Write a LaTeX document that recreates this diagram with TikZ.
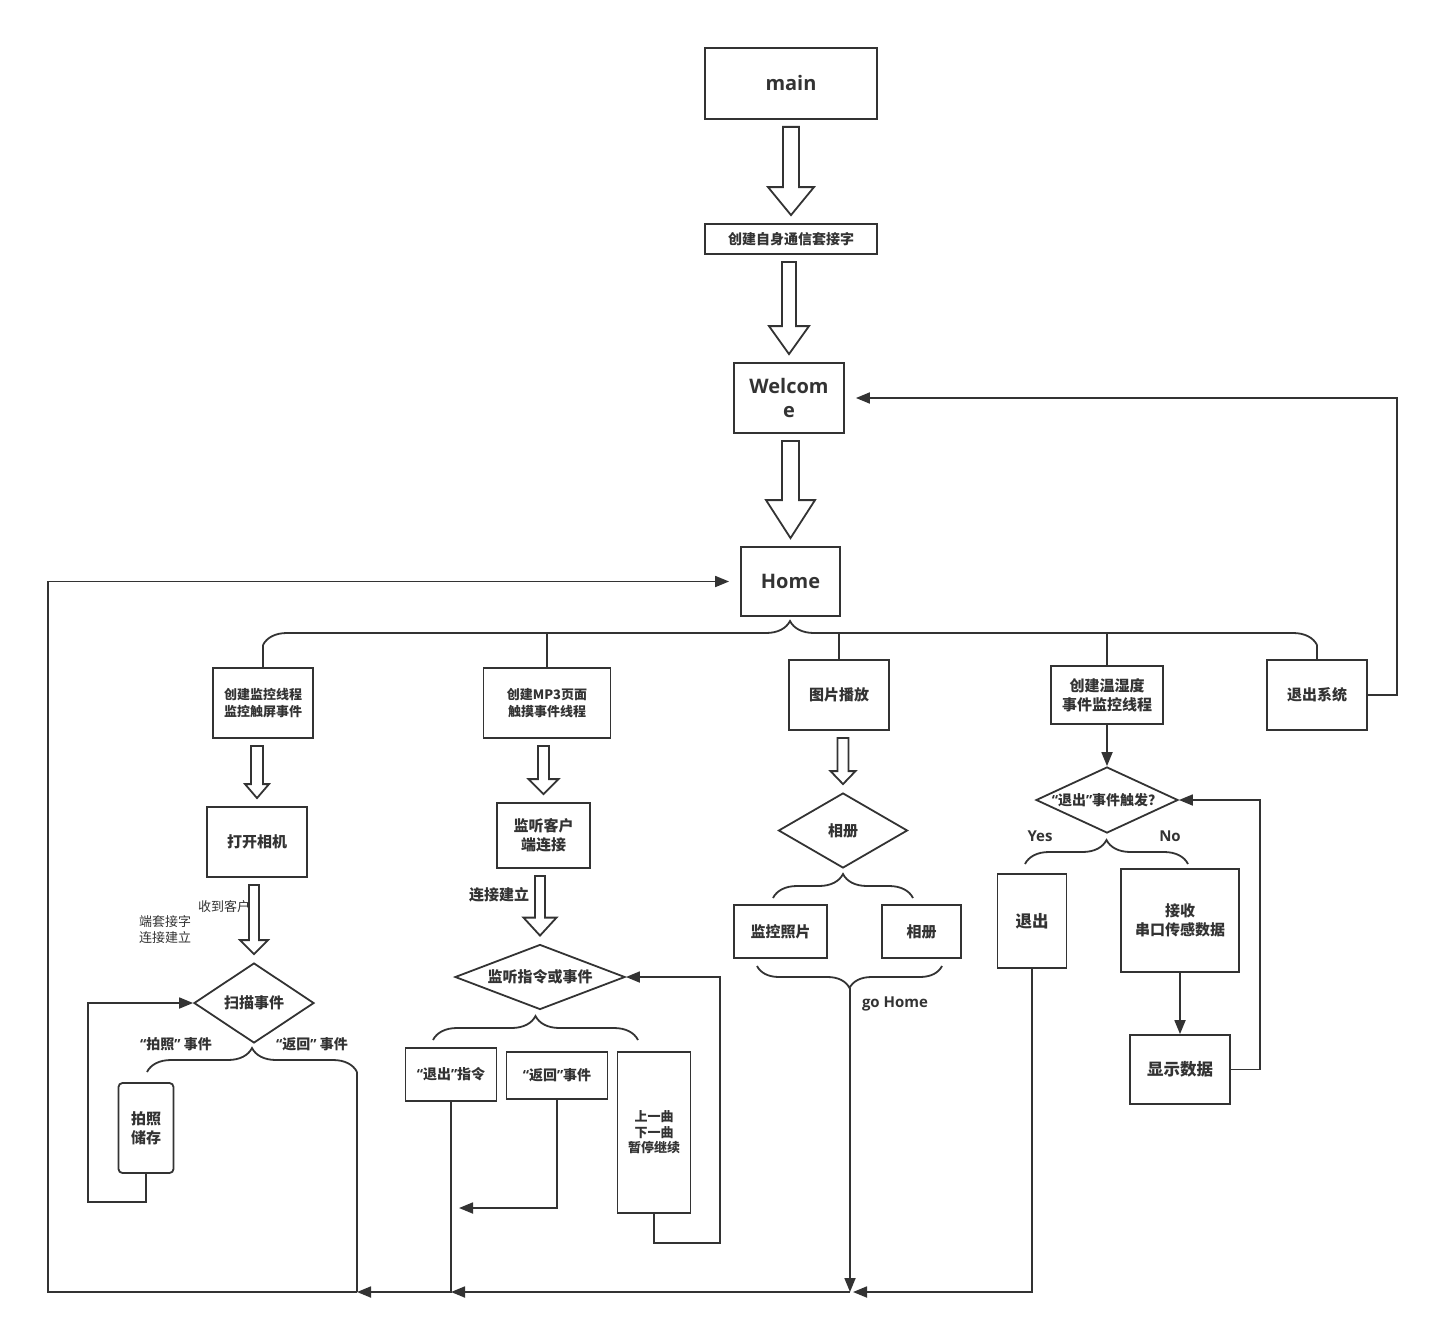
\documentclass[tikz,border=0pt]{standalone}
\usepackage{fontspec}
\setmainfont{Noto Sans CJK SC}
\newfontfamily\latinfont{Open Sans}
\usetikzlibrary{arrows.meta, positioning, calc, decorations.pathreplacing, shapes.geometric}
\definecolor{ink}{HTML}{333333}

% narrow quote marks
\newcommand{\qo}{{\latinfont“}}
\newcommand{\qc}{{\latinfont”}}

% hollow block arrow between two nodes
\newcommand{\fatarrow}[5]{%
  \draw[fat] let \p1 = (#1.south), \p2 = (#2.north) in
    (\x2-#3pt, \y1-7pt) -- (\x2+#3pt, \y1-7pt) -- (\x2+#3pt, \y2+8pt+#5pt)
    -- (\x2+#4pt, \y2+8pt+#5pt) -- (\x2, \y2+8pt) -- (\x2-#4pt, \y2+8pt+#5pt)
    -- (\x2-#3pt, \y2+8pt+#5pt) -- cycle;}

\begin{document}
\begin{tikzpicture}[x=1pt, y=-1pt,
  box/.style={draw=ink, line width=1.8pt, text=ink, inner sep=0pt, align=center,
    font=\bfseries\fontsize{15}{19}\selectfont},
  fsmall/.style={font=\bfseries\fontsize{13}{17}\selectfont},
  fmid/.style={font=\bfseries\fontsize{14}{18}\selectfont},
  latinbig/.style={font=\latinfont\bfseries\fontsize{20}{24}\selectfont},
  latinlbl/.style={text=ink, font=\latinfont\bfseries\fontsize{15}{18}\selectfont},
  dia/.style={box, diamond},
  fat/.style={draw=ink, fill=white, line width=1.8pt},
  arr/.style={-{Triangle[length=14pt, width=11pt]}, draw=ink, line width=1.8pt},
  wire/.style={draw=ink, line width=1.8pt},
  brace/.style={decorate, decoration={brace, amplitude=24pt}, draw=ink, line width=1.8pt},
  bracedown/.style={decorate, decoration={brace, mirror, amplitude=22pt}, draw=ink, line width=1.8pt},
  note/.style={text=ink, font=\bfseries\fontsize{14}{18}\selectfont}
]
  \useasboundingbox (0,0) rectangle (1429,1327);

  % Top chain
  \node[box, latinbig, minimum width=172pt, minimum height=71pt] (main) at (791,83.5) {main};
  \node[box, fmid, minimum width=172pt, minimum height=30pt] (sock) at (791,239) {创建自身通信套接字};
  \node[box, latinbig, minimum width=110pt, minimum height=70pt] (welcome) at (789,398) {Welcom\\e};
  \node[box, latinbig, minimum width=99pt, minimum height=69pt] (home) at (790.5,581.5) {Home};

  % Second row
  \node[box, fsmall, minimum width=100pt, minimum height=70pt] (mon) at (263,703) {创建监控线程\\监控触屏事件};
  \node[box, fsmall, minimum width=127pt, minimum height=70pt] (mp3) at (547,703) {创建MP3页面\\触摸事件线程};
  \node[box, minimum width=100pt, minimum height=70pt] (pic) at (839,695) {图片播放};
  \node[box, minimum width=112pt, minimum height=58pt] (th) at (1107,695) {创建温湿度\\事件监控线程};
  \node[box, minimum width=100pt, minimum height=70pt] (quitsys) at (1317,695) {退出系统};

  % Camera column
  \node[box, minimum width=100pt, minimum height=70pt] (cam) at (257,842) {打开相机};
  \node[text=ink, font=\fontsize{13}{16}\selectfont] (clientlbl) at (224,907) {收到客户};
  \node[text=ink, font=\fontsize{13}{16}\selectfont, align=center] (clientlbl2) at (165,930) {端套接字\\连接建立};
  \node[dia, aspect=1.5, minimum width=120pt, minimum height=80pt] (scan) at (254,1003) {扫描事件};
  \node[note] (shotlbl) at (176,1044) {\qo 拍照\qc\ 事件};
  \node[note] (backlbl) at (312,1044) {\qo 返回\qc\ 事件};
  \node[box, rounded corners=4pt, minimum width=55pt, minimum height=90pt] (shot) at (146,1128) {拍照\\储存};

  % MP3 column
  \node[box, minimum width=93pt, minimum height=65pt] (listen) at (543.5,835.5) {监听客户\\端连接};
  \node[note, font=\bfseries\fontsize{15}{18}\selectfont] (connlbl) at (499,895) {连接建立};
  \node[dia, aspect=2.6, minimum width=170pt, minimum height=65pt] (cmd) at (540,977) {监听指令或事件};
  \node[box, fmid, minimum width=91pt, minimum height=53pt] (quitcmd) at (451,1074.5) {\qo 退出\qc 指令};
  \node[box, fmid, minimum width=101pt, minimum height=47pt] (back) at (557,1075.5) {\qo 返回\qc 事件};
  \node[box, font=\bfseries\fontsize{13}{15.5}\selectfont, minimum width=73pt, minimum height=161pt] (song) at (654,1132.5) {上一曲\\下一曲\\暂停继续};

  % Picture column
  \node[dia, aspect=1.7, minimum width=129pt, minimum height=75pt] (album) at (843,830.5) {相册};
  \node[box, minimum width=93pt, minimum height=53pt] (snap) at (780.5,931.5) {监控照片};
  \node[box, minimum width=79pt, minimum height=53pt] (albumbox) at (921.5,931.5) {相册};
  \node[latinlbl] (gohome) at (895,1004) {go Home};

  % Sensor column
  \node[dia, aspect=2.15, fmid, minimum width=142pt, minimum height=66pt] (exit) at (1107,800) {\qo 退出\qc 事件触发？};
  \node[latinlbl] (yes) at (1040,836) {Yes};
  \node[latinlbl] (no) at (1170,836) {No};
  \node[box, font=\bfseries\fontsize{16.5}{20}\selectfont, minimum width=69pt, minimum height=94pt] (quit) at (1032,921) {退出};
  \node[box, minimum width=118pt, minimum height=103pt] (recv) at (1180,920.5) {接收\\串口传感数据};
  \node[box, font=\bfseries\fontsize{16.5}{20}\selectfont, minimum width=100pt, minimum height=69pt] (show) at (1180,1069.5) {显示数据};

  % Turning points
  \coordinate (hbr) at (790,645);
  \coordinate (hbar) at (790,633);
  \coordinate (sbl) at (147,1072);
  \coordinate (sbr) at (357,1072);
  \coordinate (gtip) at (850,988);
  \coordinate (busA) at (357,1292);
  \coordinate (busC) at (850,1292);
  \coordinate (busL) at (48,1292);
  \coordinate (loopL) at (88,1202);
  \coordinate (loopM) at (720,1243);
  \coordinate (loopE) at (1260,1069.5);
  \coordinate (loopW) at (1397,398);
  \coordinate (backend) at (459,1208);

  % Block arrows
  \fatarrow{main}{sock}{8}{23}{28}
  \fatarrow{sock}{welcome}{7}{20}{28}
  \fatarrow{welcome}{home}{8.5}{24.5}{38}
  \fatarrow{mon}{cam}{6}{12}{14}
  \fatarrow{cam}{scan}{5}{14}{14}
  \fatarrow{mp3}{listen}{5.5}{15}{15}
  \fatarrow{listen}{cmd}{5}{16.5}{18}
  \fatarrow{pic}{album}{5.5}{12.5}{13}

  % Braces
  \draw[brace] (mon.north |- hbr) -- (quitsys.north |- hbr);
  \draw[wire] (mon.north) -- (mon.north |- hbr);
  \draw[wire] (quitsys.north) -- (quitsys.north |- hbr);
  \draw[wire] (mp3.north) -- (mp3.north |- hbar);
  \draw[wire] (pic.north) -- (pic.north |- hbar);
  \draw[wire] (th.north) -- (th.north |- hbar);
  \draw[brace] (sbl) -- (sbr);
  \draw[brace] (433,1040) -- (638,1040);
  \draw[brace] (773,898) -- (913,898);
  \draw[bracedown] (757,966) -- (942,966);
  \draw[brace] (1025,864) -- (1188,864);

  % Arrows
  \draw[arr] (th.south) -- (exit.north);
  \draw[arr] (recv.south) -- (show.north);
  \draw[arr] (show.east) -- (loopE) -- (loopE |- exit.east) -- (exit.east);
  \draw[arr, shorten >=11pt] (quitsys.east) -- (loopW |- quitsys.east) -- (loopW) -- (welcome.east);
  \draw[arr] (shot.south) -- (shot.south |- loopL) -- (loopL) -- (loopL |- scan.west) -- (scan.west);
  \draw[arr] (song.south) -- (song.south |- loopM) -- (loopM) -- (loopM |- cmd.east) -- (cmd.east);
  \draw[arr] (back.south) |- (backend);

  % Back to Home
  \draw[wire] (sbr) -- (busA);
  \draw[arr, shorten >=11pt] (busA) -- (busL) -- (busL |- home.west) -- (home.west);
  \draw[arr] (quitcmd.south) -- (quitcmd.south |- busA) -- (busA);
  \draw[arr] (busC) -- (quitcmd.south |- busA);
  \draw[arr] (gtip) -- (busC);
  \draw[arr, shorten >=3pt] (quit.south) -- (quit.south |- busC) -- (busC);
\end{tikzpicture}
\end{document}
